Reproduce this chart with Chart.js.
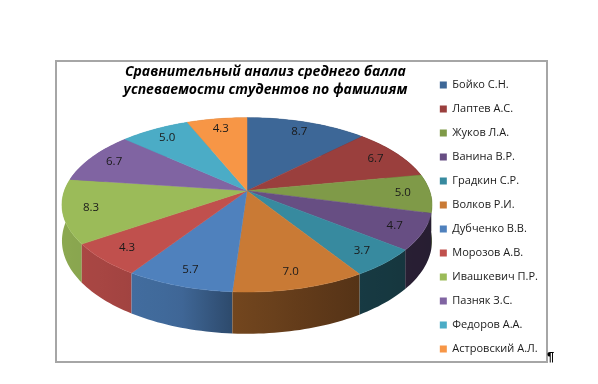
<!DOCTYPE html>
<html>
<head>
<meta charset="utf-8">
<style>
html, body { margin: 0; padding: 0; background: #fff; }
#frame { position: absolute; left: 55px; top: 60px; width: 489px; height: 299px; border: 2px solid #a6a6a6; }
#myChart { position: absolute; left: 0; top: 0; }
#mark { position: absolute; left: 547px; top: 349px; font: bold 13px "Liberation Sans"; color: #000; }
</style>
<script src="https://cdn.jsdelivr.net/npm/chart.js@4/dist/chart.umd.min.js"></script>
</head>
<body>
<div id="frame"></div>
<canvas id="myChart" width="598" height="384"></canvas>
<div id="mark">¶</div>
<script>
var titleLines = ['Сравнительный анализ среднего балла', 'успеваемости студентов по фамилиям'];
var names = ['Бойко С.Н.', 'Лаптев А.С.', 'Жуков Л.А.', 'Ванина В.Р.', 'Градкин С.Р.', 'Волков Р.И.',
    'Дубченко В.В.', 'Морозов А.В.', 'Ивашкевич П.Р.', 'Пазняк З.С.', 'Федоров А.А.', 'Астровский А.Л.'];
var scores = [8.7, 6.7, 5.0, 4.7, 3.7, 7.0, 5.7, 4.3, 8.3, 6.7, 5.0, 4.3];
var colors = ['#3d6797', '#9a3f3d', '#7f9a48', '#674e83', '#378a9f', '#c97a35',
    '#4f81bd', '#c0504d', '#9bbb59', '#8064a2', '#4bacc6', '#f79646'];

// perspective of the tilted pie
var cx = 247, cy = 190.7, radiusX = 182.6, radiusY = 84.9, tilt = 0.162, depth = 35;

function project(angle, r, drop) {
    var u = Math.cos(angle) * r, v = Math.sin(angle) * r;
    var s = 1 / (1 - tilt * v);
    return { x: cx + radiusX * u * s, y: cy + radiusY * v * s + (drop || 0) * s };
}

function shadeAt(x) {
    // wall is lit from the left
    var stops = [[62, 0.9], [180, 0.8], [233, 0.57], [360, 0.42], [432, 0.38]];
    for (var i = 1; i < stops.length; i++) {
        if (x <= stops[i][0]) {
            var t = Math.max(0, (x - stops[i - 1][0]) / (stops[i][0] - stops[i - 1][0]));
            return stops[i - 1][1] + (stops[i][1] - stops[i - 1][1]) * t;
        }
    }
    return 0.38;
}

function darken(hex, f) {
    var n = parseInt(hex.slice(1), 16);
    return 'rgb(' + Math.round((n >> 16) * f) + ',' + Math.round(((n >> 8) & 255) * f) + ',' + Math.round((n & 255) * f) + ')';
}

function rimPoints(a, b) {
    var pts = [], steps = Math.max(4, Math.ceil((b - a) * 40));
    for (var i = 0; i <= steps; i++) pts.push(a + (b - a) * i / steps);
    return pts;
}

var pie3d = {
    id: 'pie3d',
    beforeDatasetDraw: function (chart, args) {
        var ctx = chart.ctx;
        var arcs = args.meta.data;
        var order = arcs.map(function (arc, i) { return i; });
        order.sort(function (a, b) {
            return Math.sin((arcs[a].startAngle + arcs[a].endAngle) / 2) - Math.sin((arcs[b].startAngle + arcs[b].endAngle) / 2);
        });

        // side walls, back ones first
        order.forEach(function (i) {
            var angles = rimPoints(arcs[i].startAngle, arcs[i].endAngle);
            var top = angles.map(function (a) { return project(a, 1, 0); });
            var low = angles.map(function (a) { return project(a, 1, depth); });
            var xs = top.map(function (p) { return p.x; });
            var minX = Math.min.apply(null, xs), maxX = Math.max.apply(null, xs);
            var grad = ctx.createLinearGradient(minX, 0, maxX + 0.01, 0);
            for (var k = 0; k <= 6; k++) {
                grad.addColorStop(k / 6, darken(colors[i], shadeAt(minX + (maxX - minX) * k / 6)));
            }
            ctx.beginPath();
            top.forEach(function (p, n) { n ? ctx.lineTo(p.x, p.y) : ctx.moveTo(p.x, p.y); });
            low.reverse().forEach(function (p) { ctx.lineTo(p.x, p.y); });
            ctx.closePath();
            ctx.fillStyle = grad;
            ctx.fill();
        });

        // top faces
        arcs.forEach(function (arc, i) {
            ctx.beginPath();
            ctx.moveTo(cx, cy);
            rimPoints(arc.startAngle, arc.endAngle).forEach(function (a) {
                var p = project(a, 1, 0);
                ctx.lineTo(p.x, p.y);
            });
            ctx.closePath();
            ctx.fillStyle = colors[i];
            ctx.strokeStyle = colors[i];
            ctx.lineWidth = 0.5;
            ctx.fill();
            ctx.stroke();
        });

        // value labels
        ctx.fillStyle = '#1a1a1a';
        ctx.font = '11.5px "Open Sans"';
        ctx.textAlign = 'center';
        ctx.textBaseline = 'middle';
        arcs.forEach(function (arc, i) {
            var p = project((arc.startAngle + arc.endAngle) / 2, 0.85, 0);
            ctx.fillText(scores[i].toFixed(1), p.x, p.y);
        });
        return false;
    }
};

var ctx = document.getElementById('myChart').getContext('2d');
var myChart = new Chart(ctx, {
    type: 'pie',
    data: {
        labels: names,
        datasets: [{ data: scores, backgroundColor: colors, borderWidth: 0 }]
    },
    plugins: [pie3d],
    options: {
        responsive: false,
        animation: false,
        layout: { padding: { left: 104, right: 50, top: 62, bottom: 12 } },
        plugins: {
            tooltip: { enabled: false },
            title: {
                display: true,
                text: titleLines,
                fullSize: false,
                color: '#000',
                font: { family: '"Open Sans"', size: 14, style: 'italic', weight: 'bold', lineHeight: 1.3 },
                padding: { top: 1, bottom: 4 }
            },
            legend: {
                position: 'right',
                labels: {
                    boxWidth: 7,
                    boxHeight: 7,
                    padding: 13,
                    color: '#1a1a1a',
                    font: { family: '"Open Sans"', size: 11 }
                }
            }
        }
    }
});
</script>
</body>
</html>
